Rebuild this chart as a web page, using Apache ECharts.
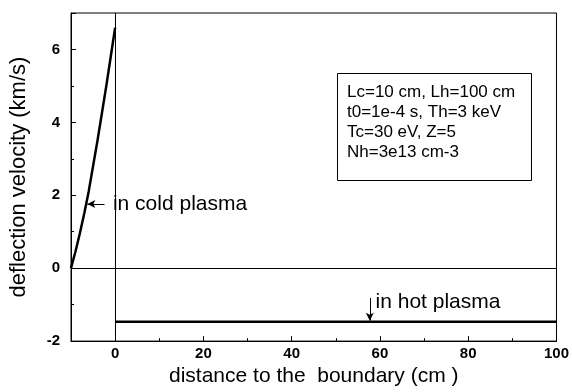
<!DOCTYPE html>
<html>
<head>
<meta charset="utf-8">
<script src="https://cdn.jsdelivr.net/npm/echarts@6/dist/echarts.min.js"></script>
<style>
html,body{margin:0;padding:0;background:#fff;}
#c{width:572px;height:392px;}
</style>
</head>
<body>
<div id="c"></div>
<script>
// ---- data ----
var coldX = [-10, -9, -8, -7, -6, -5, -4, -3, -2, -1, 0];
var coldY = [0, 0.45, 0.95, 1.5, 2.1, 2.8, 3.5, 4.25, 5.0, 5.8, 6.6];
var hotX = [0, 100];
var hotY = [-1.47, -1.47];
var xTitle = 'distance to the  boundary (cm )';
var yTitle = 'deflection velocity (km/s)';
var infoLines = ['Lc=10 cm, Lh=100 cm', 't0=1e-4 s, Th=3 keV', 'Tc=30 eV, Z=5', 'Nh=3e13 cm-3'];
// annotations in data coordinates: [tailX, tailY, tipX, tipY], text anchor [x, y]
var coldArrow = [-2.4, 1.76, -6.3, 1.76];
var coldText = ['in cold plasma', -0.5, 1.76];
var hotArrow = [57.7, -0.82, 57.7, -1.44];
var hotText = ['in hot plasma', 59.0, -0.93];

function pairs(xs, ys){ return xs.map(function(x,i){ return [x, ys[i]]; }); }

var FONT = '"Liberation Sans", Arial, Helvetica, sans-serif';
var chart = echarts.init(document.getElementById('c'), null, {renderer:'canvas'});
chart.setOption({
  animation: false,
  backgroundColor: '#fff',
  grid: {left: 71, right: 15, top: 13, bottom: 50, show: true, borderColor: '#000', borderWidth: 1, backgroundColor: 'transparent'},
  xAxis: {
    type: 'value', min: -10, max: 100,
    name: xTitle, nameLocation: 'middle', nameGap: 23,
    nameTextStyle: {fontFamily: FONT, fontSize: 21, color: '#000'},
    axisLine: {show: true, onZero: false, lineStyle: {color: '#000', width: 1}},
    axisTick: {show: true, inside: true, length: 5, lineStyle: {color: '#000'}},
    minorTick: {show: true, splitNumber: 2, length: 3, lineStyle: {color: '#000'}},
    axisLabel: {showMinLabel: false, margin: 5, fontFamily: FONT, fontSize: 15, fontWeight: 'bold', color: '#000'},
    splitLine: {show: false}
  },
  yAxis: {
    type: 'value', min: -2, max: 7, interval: 2,
    name: yTitle, nameLocation: 'middle', nameGap: 41,
    nameTextStyle: {fontFamily: FONT, fontSize: 22, color: '#000'},
    axisLine: {show: true, onZero: false, lineStyle: {color: '#000', width: 1}},
    axisTick: {show: true, inside: true, length: 5, lineStyle: {color: '#000'}},
    minorTick: {show: true, splitNumber: 2, length: 3, lineStyle: {color: '#000'}},
    axisLabel: {showMaxLabel: false, margin: 11, fontFamily: FONT, fontSize: 15, fontWeight: 'bold', color: '#000'},
    splitLine: {show: false}
  },
  series: [
    {
      type: 'line', data: pairs(coldX, coldY), showSymbol: false, symbol: 'none',
      lineStyle: {color: '#000', width: 2.5}, silent: true, z: 3,
      markLine: {
        silent: true, symbol: ['none', 'none'], label: {show: false},
        lineStyle: {color: '#000', width: 1, type: 'solid'},
        data: [{yAxis: 0}, {xAxis: 0}]
      }
    },
    {
      type: 'line', data: pairs(hotX, hotY), showSymbol: false, symbol: 'none',
      lineStyle: {color: '#000', width: 2.5}, silent: true, z: 3,
      markLine: {
        silent: true, symbol: ['none', 'arrow'], symbolSize: [6, 8], label: {show: false},
        lineStyle: {color: '#000', width: 1, type: 'solid'},
        data: [
          [{coord: [coldArrow[0], coldArrow[1]]}, {coord: [coldArrow[2], coldArrow[3]]}],
          [{coord: [hotArrow[0], hotArrow[1]]}, {coord: [hotArrow[2], hotArrow[3]]}]
        ]
      },
      markPoint: {
        silent: true, symbol: 'circle', symbolSize: 0,
        itemStyle: {color: 'transparent'},
        label: {show: true, position: 'right', distance: 0, fontFamily: FONT, fontSize: 21, color: '#000',
          formatter: function(p){ return p.name; }},
        data: [
          {name: coldText[0], coord: [coldText[1], coldText[2]]},
          {name: hotText[0], coord: [hotText[1], hotText[2]]}
        ]
      }
    }
  ],
  graphic: [
    {type: 'rect', left: 337, top: 73, shape: {width: 194, height: 107},
      style: {fill: '#fff', stroke: '#000', lineWidth: 1}, z: 10},
    {type: 'text', left: 347, top: 82, z: 11,
      style: {text: infoLines.join('\n'), fontFamily: FONT, fontSize: 17, lineHeight: 20, fill: '#000'}}
  ]
});
</script>
</body>
</html>
